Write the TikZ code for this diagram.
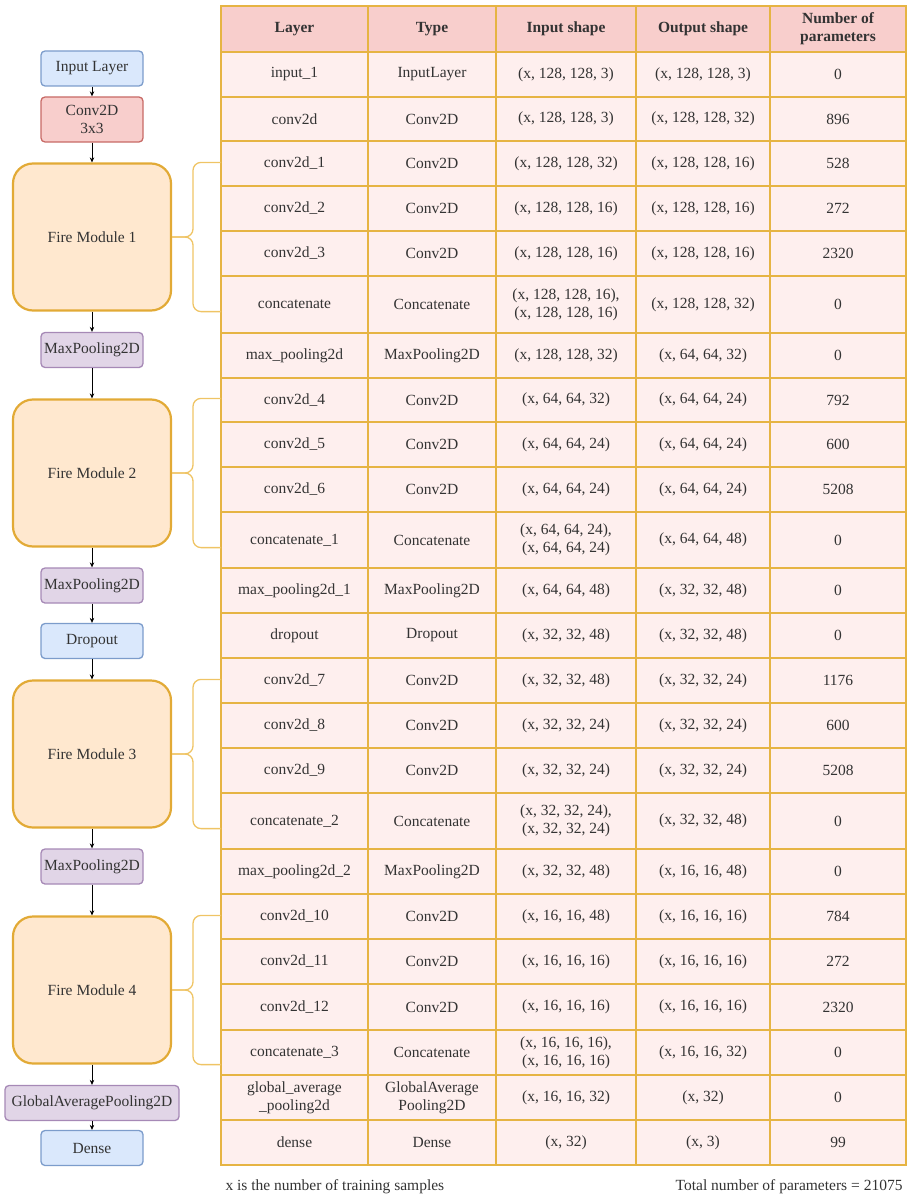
\documentclass[tikz,border=0pt]{standalone}
\usepackage{fontspec}
\setmainfont{Liberation Serif}
\usetikzlibrary{positioning, arrows.meta, calc}

\definecolor{blueFill}{HTML}{DAE8FC}
\definecolor{blueLine}{HTML}{7C9CCB}
\definecolor{redFill}{HTML}{F8CECC}
\definecolor{redLine}{HTML}{C86A66}
\definecolor{purpleFill}{HTML}{E1D5E7}
\definecolor{purpleLine}{HTML}{A689B6}
\definecolor{fireFill}{HTML}{FFE8CF}
\definecolor{fireLine}{HTML}{E2AA36}
\definecolor{gridLine}{HTML}{E6B443}
\definecolor{cellFill}{HTML}{FEEFEE}
\definecolor{headFill}{HTML}{F8CECC}
\definecolor{braceLine}{HTML}{EFC465}
\definecolor{txtGray}{HTML}{333333}

\begin{document}
\begin{tikzpicture}[x=1pt, y=-1pt, font=\fontsize{15.5}{18}\selectfont, text=txtGray,
    every node/.style={align=center},
    box/.style={rectangle, draw, rounded corners=4pt, line width=1.3pt, minimum width=102pt, minimum height=35pt, inner sep=1pt},
    inbox/.style={box, fill=blueFill, draw=blueLine},
    convbox/.style={box, fill=redFill, draw=redLine, minimum height=45pt},
    poolbox/.style={box, fill=purpleFill, draw=purpleLine},
    firebox/.style={rectangle, draw=fireLine, fill=fireFill, rounded corners=20pt, line width=2.2pt, minimum width=158pt, minimum height=147pt},
    arrow/.style={-{Stealth[length=5pt, width=4.5pt]}, line width=0.9pt, black},
    brace/.style={draw=braceLine, line width=1.3pt, rounded corners=8pt},
    cell/.style={rectangle, draw=gridLine, fill=cellFill, line width=1.8pt, outer sep=0pt, anchor=north west, inner sep=1pt},
    head/.style={cell, fill=headFill, font=\fontsize{15.5}{18}\selectfont\bfseries, minimum height=46pt},
]
\useasboundingbox (0,0) rectangle (908,1196);

% layer flow
\node[inbox] (inp) at (92,68.5) {Input Layer};
\node[convbox] (conv) at (92,119.5) {Conv2D\\3x3};
\node[firebox] (fire1) at (92,237) {Fire Module 1};
\node[poolbox] (pool1) at (92,350) {MaxPooling2D};
\node[firebox] (fire2) at (92,473) {Fire Module 2};
\node[poolbox] (pool2) at (92,585.5) {MaxPooling2D};
\node[inbox] (drop) at (92,641) {Dropout};
\node[firebox] (fire3) at (92,754) {Fire Module 3};
\node[poolbox] (pool3) at (92,866.5) {MaxPooling2D};
\node[firebox] (fire4) at (92,990) {Fire Module 4};
\node[poolbox, minimum width=174pt] (gap) at (92,1103) {GlobalAveragePooling2D};
\node[inbox] (dense) at (92,1148) {Dense};

\draw[arrow] (inp) -- (conv);
\draw[arrow] (conv) -- (fire1);
\draw[arrow] (fire1) -- (pool1);
\draw[arrow] (pool1) -- (fire2);
\draw[arrow] (fire2) -- (pool2);
\draw[arrow] (pool2) -- (drop);
\draw[arrow] (drop) -- (fire3);
\draw[arrow] (fire3) -- (pool3);
\draw[arrow] (pool3) -- (fire4);
\draw[arrow] (fire4) -- (gap);
\draw[arrow] (gap) -- (dense);

% table
\coordinate (tl) at (221,0);
\coordinate (bx) at (193,0);

\node[head, minimum width=147pt] (h1) at (221,6) {Layer};
\node[head, minimum width=128pt] (h2) at (368,6) {Type};
\node[head, minimum width=140pt] (h3) at (496,6) {Input shape};
\node[head, minimum width=134pt] (h4) at (636,6) {Output shape};
\node[head, minimum width=136pt] (h5) at (770,6) {Number of\\parameters};

\foreach \ya/\yb/\lay/\typ/\inshape/\outshape/\np [count=\i] in {
  52/97/input\_1/InputLayer/{(x, 128, 128, 3)}/{(x, 128, 128, 3)}/0,
  97/141/conv2d/Conv2D/{(x, 128, 128, 3)}/{(x, 128, 128, 32)}/896,
  141/186/conv2d\_1/Conv2D/{(x, 128, 128, 32)}/{(x, 128, 128, 16)}/528,
  186/231/conv2d\_2/Conv2D/{(x, 128, 128, 16)}/{(x, 128, 128, 16)}/272,
  231/276/conv2d\_3/Conv2D/{(x, 128, 128, 16)}/{(x, 128, 128, 16)}/2320,
  276/333/concatenate/Concatenate/{(x, 128, 128, 16),\\(x, 128, 128, 16)}/{(x, 128, 128, 32)}/0,
  333/378/max\_pooling2d/MaxPooling2D/{(x, 128, 128, 32)}/{(x, 64, 64, 32)}/0,
  378/422/conv2d\_4/Conv2D/{(x, 64, 64, 32)}/{(x, 64, 64, 24)}/792,
  422/467/conv2d\_5/Conv2D/{(x, 64, 64, 24)}/{(x, 64, 64, 24)}/600,
  467/512/conv2d\_6/Conv2D/{(x, 64, 64, 24)}/{(x, 64, 64, 24)}/5208,
  512/568/concatenate\_1/Concatenate/{(x, 64, 64, 24),\\(x, 64, 64, 24)}/{(x, 64, 64, 48)}/0,
  568/613/max\_pooling2d\_1/MaxPooling2D/{(x, 64, 64, 48)}/{(x, 32, 32, 48)}/0,
  613/658/dropout/Dropout/{(x, 32, 32, 48)}/{(x, 32, 32, 48)}/0,
  658/703/conv2d\_7/Conv2D/{(x, 32, 32, 48)}/{(x, 32, 32, 24)}/1176,
  703/748/conv2d\_8/Conv2D/{(x, 32, 32, 24)}/{(x, 32, 32, 24)}/600,
  748/793/conv2d\_9/Conv2D/{(x, 32, 32, 24)}/{(x, 32, 32, 24)}/5208,
  793/849/concatenate\_2/Concatenate/{(x, 32, 32, 24),\\(x, 32, 32, 24)}/{(x, 32, 32, 48)}/0,
  849/894/max\_pooling2d\_2/MaxPooling2D/{(x, 32, 32, 48)}/{(x, 16, 16, 48)}/0,
  894/939/conv2d\_10/Conv2D/{(x, 16, 16, 48)}/{(x, 16, 16, 16)}/784,
  939/984/conv2d\_11/Conv2D/{(x, 16, 16, 16)}/{(x, 16, 16, 16)}/272,
  984/1030/conv2d\_12/Conv2D/{(x, 16, 16, 16)}/{(x, 16, 16, 16)}/2320,
  1030/1075/concatenate\_3/Concatenate/{(x, 16, 16, 16),\\(x, 16, 16, 16)}/{(x, 16, 16, 32)}/0,
  1075/1120/{global\_average\\\_pooling2d}/{GlobalAverage\\Pooling2D}/{(x, 16, 16, 32)}/{(x, 32)}/0,
  1120/1165/dense/Dense/{(x, 32)}/{(x, 3)}/99} {
  \pgfmathsetmacro\rh{\yb-\ya}
  \node[cell, minimum width=147pt, minimum height=\rh pt] (l\i) at (221,\ya) {\lay};
  \node[cell, minimum width=128pt, minimum height=\rh pt] (t\i) at (368,\ya) {\typ};
  \node[cell, minimum width=140pt, minimum height=\rh pt] (is\i) at (496,\ya) {\inshape};
  \node[cell, minimum width=134pt, minimum height=\rh pt] (os\i) at (636,\ya) {\outshape};
  \node[cell, minimum width=136pt, minimum height=\rh pt] (np\i) at (770,\ya) {\np};
}

% braces from fire modules to their rows
\foreach \f in {fire1,fire2,fire3,fire4} {
  \draw[brace] (\f.north -| tl) -| (\f.east -| bx) -- (\f.east);
  \draw[brace] (\f.south -| tl) -| (\f.east -| bx) -- (\f.east);
}

\node[anchor=west] (note) at (222,1187) {x is the number of training samples};
\node[anchor=east] (total) at (906,1187) {Total number of parameters = 21075};
\end{tikzpicture}
\end{document}
